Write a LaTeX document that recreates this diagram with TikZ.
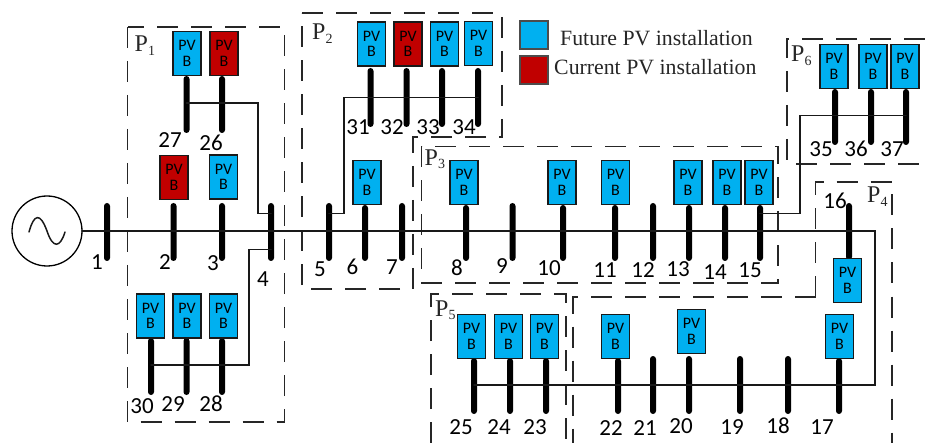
\documentclass[tikz,border=0pt]{standalone}
\usepackage{fontspec}
\setmainfont{Liberation Serif}
\newfontfamily\crlfont{Carlito}
\tikzset{
  cvbus/.style={fill=black,draw=none,rounded corners=3pt,minimum width=6pt,inner sep=0pt,outer sep=0pt},
  pvbox/.style={draw=black!90,line width=1.4pt,minimum width=28pt,minimum height=44pt,inner sep=0pt,outer sep=0pt,align=center,text=black,font=\crlfont\fontsize{16}{15.5}\selectfont},
  busnum/.style={inner sep=0pt,text=black,font=\crlfont\fontsize{23}{23}\selectfont},
  link/.style={line width=1.7pt,draw=black!90,line cap=round,line join=miter},
  zone/.style={line width=1.2pt,draw=black!85,dash pattern=on 21pt off 13pt},
  zonelabel/.style={inner sep=0pt,anchor=base west,text=black!85,font=\fontsize{24}{24}\selectfont},
  legendtext/.style={inner sep=0pt,anchor=base west,text=black!85,font=\fontsize{21.8}{22}\selectfont},
}
\definecolor{pvfuture}{RGB}{0,176,240}
\definecolor{pvcurrent}{RGB}{192,0,0}
\newcommand{\busn}[4]{\pgfmathsetmacro{\hh}{#4-#3}\node[cvbus,minimum height=\hh pt] (b#1) at (#2,{(#3+#4)/2}) {};}
\newcommand{\pvn}[4]{\node[pvbox,fill=#4] (pv#1) at (#2,#3) {PV\\B};}
\newcommand{\numl}[3]{\node[busnum] (n#1) at (#2,#3) {#1};}
\newcommand{\zlab}[3]{\node[zonelabel] (P#1) at (#2,#3) {P\raisebox{-3.5pt}{\fontsize{14}{14}\selectfont #1}};}
\begin{document}
\begin{tikzpicture}[x=1pt,y=-1pt]
\useasboundingbox (0,0) rectangle (925,443);
% zones
\draw[zone] (127.5,27) rectangle (284.5,422);
\draw[zone] (302,13) -- (502,13) -- (502,137) -- (413,137) -- (413,289) -- (302,289) -- cycle;
\draw[zone] (421.5,146.5) rectangle (778,283);
\draw[zone] (925,39) -- (787,39) -- (787,164) -- (919,164);
\draw[zone] (815.5,297) -- (815.5,182) -- (892,182) -- (892,443);
\draw[zone] (815.5,297) -- (573,297) -- (573,443);
\draw[zone] (431,443) -- (431,294) -- (566,294) -- (566,443);
% generator
\node[draw=black,line width=1.3pt,circle,minimum size=70pt,inner sep=0pt,outer sep=0pt] (gen) at (47,231) {};
\draw[line width=1.5pt,black!90,line cap=round] (29,232) .. controls (34,214) and (40,212) .. (47,231) .. controls (53,249) and (60,248) .. (65,232);
% buses
\busn{1}{107}{203}{261}
\busn{2}{173.5}{203}{261}
\busn{3}{222}{203}{261}
\busn{4}{271}{203}{261}
\busn{5}{329}{203}{261}
\busn{6}{365}{205}{261}
\busn{7}{402}{203}{261}
\busn{8}{466}{205}{261}
\busn{9}{512.5}{203}{261}
\busn{10}{563}{205}{261}
\busn{11}{615}{205}{261}
\busn{12}{653}{203}{261}
\busn{13}{689}{205}{261}
\busn{14}{725}{205}{261}
\busn{15}{760}{205}{261}
\busn{16}{849}{203}{260}
\busn{17}{839}{358}{414}
\busn{18}{788}{356}{414}
\busn{19}{740}{356}{414}
\busn{20}{689}{356}{414}
\busn{21}{653}{356}{414}
\busn{22}{618}{358}{414}
\busn{23}{546}{358}{414}
\busn{24}{510}{358}{414}
\busn{25}{474}{358}{414}
\busn{26}{222}{76}{133}
\busn{27}{186.5}{76}{133}
\busn{28}{222}{338}{395}
\busn{29}{186.5}{338}{395}
\busn{30}{151}{338}{395}
\busn{31}{370.5}{68}{127}
\busn{32}{406.5}{68}{127}
\busn{33}{442}{68}{127}
\busn{34}{478}{68}{127}
\busn{35}{835}{89}{145}
\busn{36}{871}{89}{145}
\busn{37}{906}{89}{145}
% PV boxes
\pvn{27}{187}{53.5}{pvfuture}
\pvn{26}{224}{53.5}{pvcurrent}
\pvn{2}{174}{177.5}{pvcurrent}
\pvn{3}{223.5}{177}{pvfuture}
\pvn{30}{150.5}{316}{pvfuture}
\pvn{29}{187}{316}{pvfuture}
\pvn{28}{223.5}{316}{pvfuture}
\pvn{31}{371.5}{44}{pvfuture}
\pvn{32}{408}{44}{pvcurrent}
\pvn{33}{444.5}{44}{pvfuture}
\pvn{34}{478.5}{43.5}{pvfuture}
\pvn{6}{367}{182.5}{pvfuture}
\pvn{8}{464}{182.5}{pvfuture}
\pvn{10}{562}{182.5}{pvfuture}
\pvn{11}{615.5}{182.5}{pvfuture}
\pvn{13}{688}{182.5}{pvfuture}
\pvn{14}{727}{182.5}{pvfuture}
\pvn{15}{759}{182.5}{pvfuture}
\pvn{16}{847.5}{280.5}{pvfuture}
\pvn{17}{839.5}{336.5}{pvfuture}
\pvn{20}{691.5}{331.5}{pvfuture}
\pvn{22}{615.5}{336.5}{pvfuture}
\pvn{23}{544.5}{336.5}{pvfuture}
\pvn{24}{508.5}{336.5}{pvfuture}
\pvn{25}{471.5}{336.5}{pvfuture}
\pvn{35}{834}{66.5}{pvfuture}
\pvn{36}{873}{66.5}{pvfuture}
\pvn{37}{905}{66.5}{pvfuture}
% connectors
\coordinate (mainy) at (0,231);
\coordinate (mainc) at (875,231);
\coordinate (lowc) at (875,385);
\draw[link] (gen.east) -- (b1 |- mainy) -- (b15 |- mainy) -- (mainc) -- (lowc) -- (b25 |- lowc);
\coordinate (c1) at (258,103);
\coordinate (j4a) at (0,213.5);
\draw[link] (b27 |- c1) -- (b26 |- c1) -- (c1) -- (c1 |- j4a) -- (b4 |- j4a);
\coordinate (c2) at (249,365);
\coordinate (j4b) at (0,249.5);
\draw[link] (b30 |- c2) -- (b29 |- c2) -- (b28 |- c2) -- (c2) -- (c2 |- j4b) -- (b4 |- j4b);
\coordinate (c3) at (344,97.5);
\coordinate (j5) at (0,213.5);
\draw[link] (b34 |- c3) -- (b31 |- c3) -- (c3) -- (c3 |- j5) -- (b5 |- j5);
\coordinate (c4) at (800,115.5);
\coordinate (j15) at (0,213.5);
\draw[link] (b37 |- c4) -- (b35 |- c4) -- (c4) -- (c4 |- j15) -- (b15 |- j15);
% bus numbers
\numl{1}{97}{262}
\numl{2}{165}{262}
\numl{3}{213}{263}
\numl{4}{263}{279}
\numl{5}{320}{269}
\numl{6}{352.5}{267}
\numl{7}{392}{267}
\numl{8}{457}{268}
\numl{9}{502}{266}
\numl{10}{549}{268}
\numl{11}{605}{270}
\numl{12}{643}{270}
\numl{13}{678}{269}
\numl{14}{715}{272}
\numl{15}{750}{270}
\numl{16}{835}{201}
\numl{17}{822}{427}
\numl{18}{778}{426}
\numl{19}{732}{427}
\numl{20}{681}{426}
\numl{21}{645}{428}
\numl{22}{611}{428}
\numl{23}{535}{427}
\numl{24}{499}{427}
\numl{25}{461}{427}
\numl{26}{211}{143}
\numl{27}{170}{140}
\numl{28}{211}{404}
\numl{29}{173}{404}
\numl{30}{142}{406}
\numl{31}{358}{127}
\numl{32}{392}{127}
\numl{33}{428}{127}
\numl{34}{464}{127}
\numl{35}{821}{149}
\numl{36}{856}{149}
\numl{37}{892}{149}
% zone labels
\zlab{1}{134.5}{52}
\zlab{2}{312}{40}
\zlab{3}{424.5}{165.5}
\zlab{4}{867}{203}
\zlab{5}{435}{316}
\zlab{6}{791}{62}
% legend
\node[draw=black!70,line width=1.2pt,fill=pvfuture,minimum width=28pt,minimum height=28pt,inner sep=0pt] (lega) at (534,35) {};
\node[draw=black!70,line width=1.2pt,fill=pvcurrent,minimum width=28pt,minimum height=28pt,inner sep=0pt] (legb) at (534,70) {};
\node[legendtext] (lta) at (560,46) {Future PV installation};
\node[legendtext] (ltb) at (554,75) {Current PV installation};
\end{tikzpicture}
\end{document}
